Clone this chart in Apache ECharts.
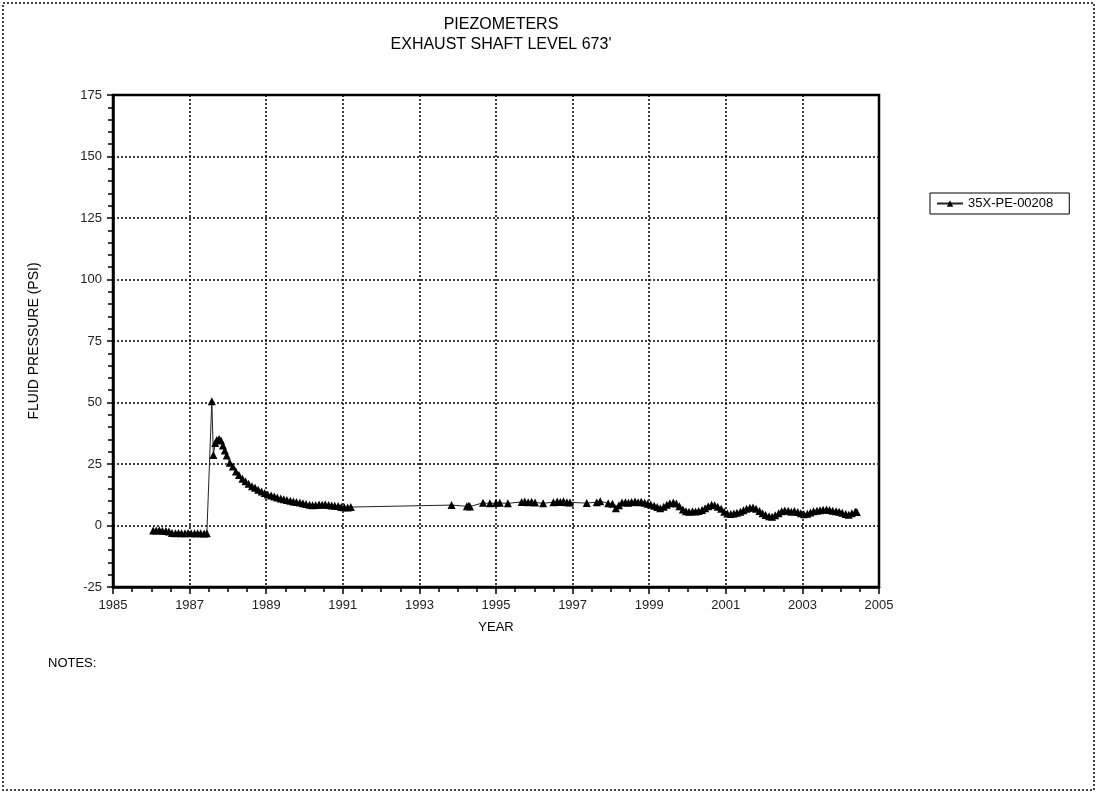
<!DOCTYPE html>
<html lang="en">
<head>
    <meta charset="UTF-8">
    <title>Piezometers - Exhaust Shaft Level 673'</title>
    <style>
        html, body { margin: 0; padding: 0; background: #fff; }
        #main { width: 1097px; height: 793px; }
    </style>
</head>
<body>
<div id="main"></div>
<script src="https://cdn.jsdelivr.net/npm/echarts@6/dist/echarts.min.js"></script>
<script>
    // readings of 35X-PE-00208 (decimal year, psi)
    const years = [
        1986.05, 1986.13, 1986.21, 1986.29, 1986.38, 1986.46, 1986.54, 1986.63, 1986.71, 1986.79,
        1986.88, 1986.96, 1987.04, 1987.13, 1987.21, 1987.29, 1987.38, 1987.45,
        1987.58, 1987.62, 1987.67, 1987.71, 1987.77, 1987.82, 1987.87, 1987.92, 1987.97,
        1988.05, 1988.13, 1988.21, 1988.29, 1988.38, 1988.46, 1988.54, 1988.63, 1988.71, 1988.79,
        1988.88, 1988.96, 1989.04, 1989.13, 1989.21, 1989.29, 1989.38, 1989.46, 1989.54, 1989.63,
        1989.71, 1989.79, 1989.88, 1989.96, 1990.04, 1990.13, 1990.21, 1990.29, 1990.38, 1990.46,
        1990.54, 1990.63, 1990.71, 1990.79, 1990.88, 1990.96, 1991.04, 1991.13, 1991.21,
        1993.84, 1994.24, 1994.29, 1994.32, 1994.66, 1994.84, 1995.00, 1995.10, 1995.31,
        1995.67, 1995.75, 1995.84, 1995.93, 1996.02, 1996.23, 1996.50, 1996.60, 1996.68, 1996.76,
        1996.85, 1996.93, 1997.37, 1997.63, 1997.72, 1997.93,
        1998.04, 1998.13, 1998.21, 1998.29, 1998.38, 1998.46, 1998.54, 1998.63, 1998.71, 1998.79,
        1998.88, 1998.96, 1999.04, 1999.13, 1999.21, 1999.29, 1999.38, 1999.46, 1999.54, 1999.63,
        1999.71, 1999.79, 1999.88, 1999.96, 2000.04, 2000.13, 2000.21, 2000.29, 2000.38, 2000.46,
        2000.54, 2000.63, 2000.71, 2000.79, 2000.88, 2000.96, 2001.04, 2001.13, 2001.21, 2001.29,
        2001.38, 2001.46, 2001.54, 2001.63, 2001.71, 2001.79, 2001.88, 2001.96, 2002.04, 2002.13,
        2002.21, 2002.29, 2002.38, 2002.46, 2002.54, 2002.63, 2002.71, 2002.79, 2002.88, 2002.96,
        2003.04, 2003.13, 2003.21, 2003.29, 2003.38, 2003.46, 2003.54, 2003.63, 2003.71, 2003.79,
        2003.88, 2003.96, 2004.04, 2004.13, 2004.21, 2004.29, 2004.38, 2004.42
    ];
    const psi = [
        -2.0, -2.0, -1.9, -2.1, -2.2, -2.4, -3.0, -3.1, -3.0, -3.1,
        -3.2, -3.0, -3.1, -3.2, -3.1, -3.2, -3.3, -3.2,
        50.5, 28.7, 33.5, 34.8, 35.2, 34.6, 32.5, 30.5, 28.5,
        25.5, 24.0, 22.0, 20.5, 19.0, 18.0, 17.0, 16.0, 15.3, 14.5,
        13.8, 13.2, 12.6, 12.2, 11.8, 11.4, 11.0, 10.7, 10.4, 10.1,
        9.8, 9.6, 9.4, 9.0, 8.7, 8.4, 8.2, 8.3, 8.5, 8.4,
        8.6, 8.3, 8.1, 8.0, 7.9, 7.5, 7.4, 7.3, 7.5,
        8.3, 7.8, 8.0, 7.7, 9.2, 9.0, 9.1, 9.2, 9.0,
        9.6, 9.8, 9.5, 9.7, 9.4, 9.0, 9.5, 9.8, 9.6, 9.9,
        9.5, 9.4, 9.1, 9.5, 9.9, 9.0,
        8.8, 7.0, 8.2, 9.3, 9.5, 9.2, 9.6, 9.8, 9.5, 9.7,
        9.2, 8.8, 8.5, 8.0, 7.5, 7.0, 7.6, 8.4, 9.0, 9.4,
        8.9, 7.8, 6.5, 5.8, 5.6, 5.8, 5.7, 5.9, 6.3, 7.0,
        7.8, 8.4, 8.2, 7.6, 6.8, 5.6, 4.9, 4.7, 4.9, 5.2,
        5.6, 6.2, 6.8, 7.2, 7.3, 6.8, 5.9, 5.0, 4.3, 3.8,
        3.6, 4.2, 5.0, 5.8, 6.1, 6.0, 5.6, 5.9, 5.5, 5.0,
        4.6, 4.8, 5.3, 5.8, 6.0, 6.2, 6.4, 6.5, 6.3, 6.0,
        5.8, 5.6, 5.2, 4.7, 4.4, 5.0, 5.6, 5.5
    ];
    const seriesName = '35X-PE-00208';
    const font = 'Liberation Sans, Arial, sans-serif';

    const myChart = echarts.init(document.getElementById('main'));
    myChart.setOption({
        backgroundColor: '#fff',
        animation: false,
        textStyle: { fontFamily: font },
        title: {
            text: "PIEZOMETERS\nEXHAUST SHAFT LEVEL 673'",
            left: 496,
            textAlign: 'center',
            top: 10,
            textStyle: { fontSize: 16, fontWeight: 'normal', color: '#000', lineHeight: 20, fontFamily: font }
        },
        legend: {
            left: 930,
            top: 193,
            orient: 'vertical',
            itemWidth: 26,
            itemHeight: 8,
            itemGap: 0,
            padding: [4, 16, 4, 6],
            borderColor: '#000',
            borderWidth: 1,
            borderRadius: 0,
            textStyle: { fontSize: 13, color: '#000', fontFamily: font },
            data: [seriesName]
        },
        grid: {
            left: 113,
            right: 218,
            top: 95,
            bottom: 206,
            show: true,
            borderColor: '#000',
            borderWidth: 2.5
        },
        xAxis: {
            type: 'value',
            min: 1985,
            max: 2005,
            interval: 2,
            name: 'YEAR',
            nameLocation: 'middle',
            nameGap: 34,
            nameTextStyle: { fontSize: 13, color: '#000' },
            axisLine: { show: true, onZero: false, lineStyle: { color: '#000', width: 2.5 } },
            axisTick: { show: true, length: 7, lineStyle: { color: '#000', width: 1.5 } },
            minorTick: { show: true, splitNumber: 4, length: 5, lineStyle: { color: '#000', width: 1.5 } },
            axisLabel: { fontSize: 13, color: '#222', margin: 12, formatter: v => String(v) },
            splitLine: { show: true, lineStyle: { color: '#000', width: 1.5, type: [2, 2] } }
        },
        yAxis: {
            type: 'value',
            min: -25,
            max: 175,
            interval: 25,
            name: 'FLUID PRESSURE (PSI)',
            nameLocation: 'middle',
            nameGap: 72,
            nameTextStyle: { fontSize: 14, color: '#000' },
            axisLine: { show: true, onZero: false, lineStyle: { color: '#000', width: 2.5 } },
            axisTick: { show: true, length: 6, lineStyle: { color: '#000', width: 1.5 } },
            minorTick: { show: true, splitNumber: 5, length: 5, lineStyle: { color: '#000', width: 1.5 } },
            axisLabel: { fontSize: 13, color: '#222', margin: 11 },
            splitLine: { show: true, lineStyle: { color: '#000', width: 1.5, type: [2, 2] } }
        },
        graphic: [
            {
                type: 'rect',
                shape: { x: 3, y: 3, width: 1091, height: 787 },
                style: { fill: 'none', stroke: '#444', lineWidth: 2, lineDash: [2, 2] },
                silent: true
            },
            {
                type: 'text',
                left: 48,
                top: 657,
                style: { text: 'NOTES:', fontSize: 13, fill: '#000', fontFamily: font }
            }
        ],
        series: [{
            name: seriesName,
            type: 'line',
            data: years.map((y, i) => [y, psi[i]]),
            symbol: 'triangle',
            symbolSize: 8,
            showAllSymbol: true,
            itemStyle: { color: '#000' },
            lineStyle: { color: '#222', width: 1 }
        }]
    });
</script>
</body>
</html>
